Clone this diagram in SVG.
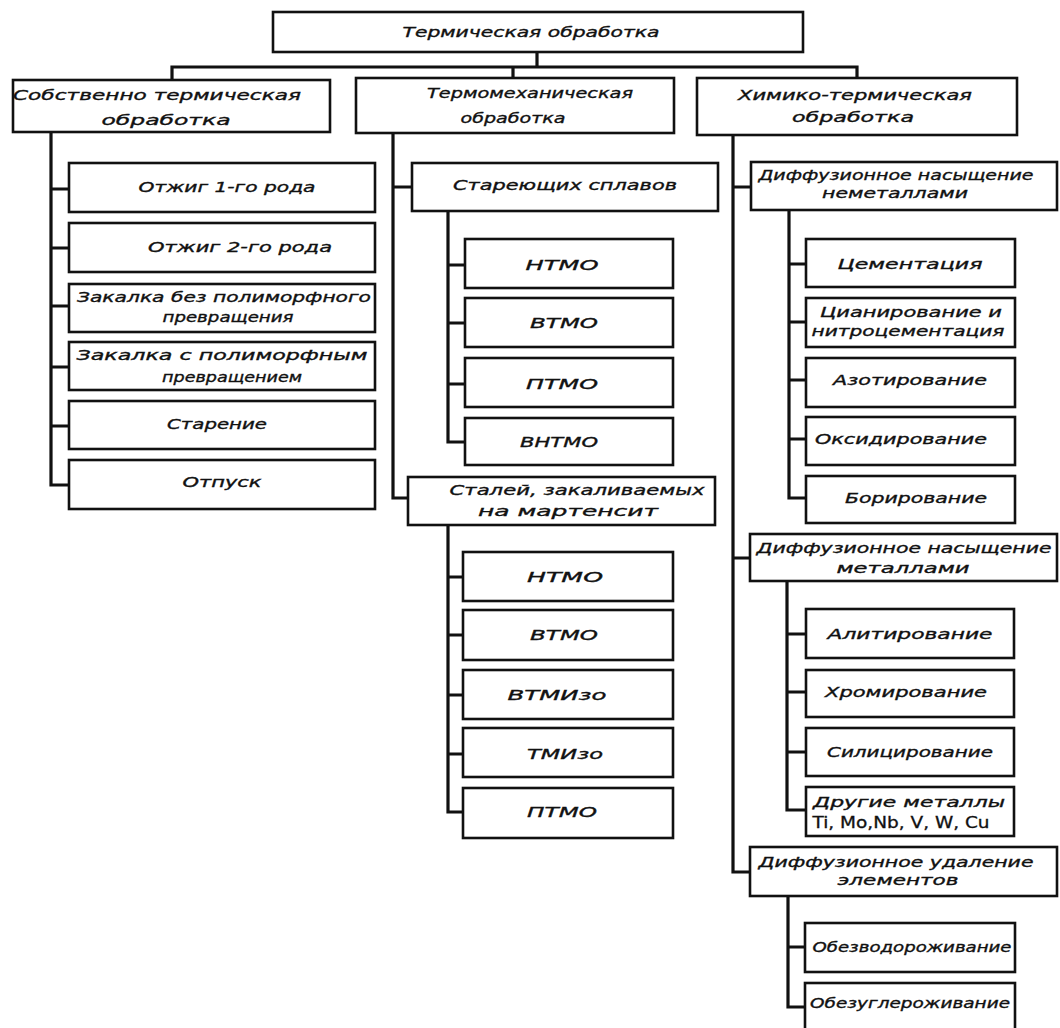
<svg xmlns="http://www.w3.org/2000/svg" width="1060" height="1028" viewBox="0 0 1060 1028">
<style>
.box{fill:#fff;stroke:#111;stroke-width:2.6}
.wire{fill:none;stroke:#111;stroke-width:3.2;stroke-linejoin:miter;stroke-linecap:square}
.t{font-family:"DejaVu Sans","Liberation Sans",sans-serif;font-style:italic;font-size:14px;fill:#111;stroke:#111;stroke-width:0.35;text-anchor:middle}
.u{font-family:"DejaVu Sans","Liberation Sans",sans-serif;font-size:15px;fill:#111;stroke:#111;stroke-width:0.3;text-anchor:middle}
</style>
<rect width="1060" height="1028" fill="#fff"/>
<g id="connectors">
<path class="wire" d="M537,52 V67 M172,67 H857 M172,67 V80 M513,67 V78 M857,67 V78"/>
<path class="wire" d="M51,132 V485 H69 M51,189 H69 M51,248 H69 M51,306 H69 M51,367 H69 M51,426 H69"/>
<path class="wire" d="M393,134 V498 H408 M393,187 H412"/>
<path class="wire" d="M448,211 V442 H465 M448,265 H465 M448,323 H465 M448,384 H465"/>
<path class="wire" d="M448,525 V812 H463 M448,577 H463 M448,635 H463 M448,695 H463 M448,754 H463"/>
<path class="wire" d="M733,135 V872 H750 M733,187 H751 M733,558 H750"/>
<path class="wire" d="M789,210 V498 H806 M789,264 H806 M789,322 H806 M789,380 H806 M789,439 H806"/>
<path class="wire" d="M787,581 V810 H806 M787,634 H806 M787,692 H806 M787,752 H806"/>
<path class="wire" d="M788,896 V1007 H805 M788,947 H805"/>
</g>
<g id="root"><rect class="box" x="273" y="12" width="530" height="40"/><text class="t" x="531" y="37" textLength="257" lengthAdjust="spacingAndGlyphs">Термическая обработка</text></g>
<g id="own"><rect class="box" x="13" y="80" width="317" height="52"/><text class="t" x="157" y="100" textLength="288" lengthAdjust="spacingAndGlyphs">Собственно термическая</text><text class="t" x="166" y="125" textLength="129" lengthAdjust="spacingAndGlyphs">обработка</text></g>
<g id="thermomech"><rect class="box" x="356" y="78" width="318" height="55"/><text class="t" x="530" y="98" textLength="206" lengthAdjust="spacingAndGlyphs">Термомеханическая</text><text class="t" x="513" y="123" textLength="105" lengthAdjust="spacingAndGlyphs">обработка</text></g>
<g id="chemo"><rect class="box" x="697" y="78" width="320" height="57"/><text class="t" x="855" y="100" textLength="234" lengthAdjust="spacingAndGlyphs">Химико-термическая</text><text class="t" x="853" y="122" textLength="122" lengthAdjust="spacingAndGlyphs">обработка</text></g>

<g id="anneal1"><rect class="box" x="69" y="163" width="306" height="49"/><text class="t" x="227" y="192" textLength="177" lengthAdjust="spacingAndGlyphs">Отжиг 1-го рода</text></g>
<g id="anneal2"><rect class="box" x="69" y="223" width="306" height="49"/><text class="t" x="240" y="252" textLength="184" lengthAdjust="spacingAndGlyphs">Отжиг 2-го рода</text></g>
<g id="quench1"><rect class="box" x="69" y="284" width="306" height="48"/><text class="t" x="224" y="302" textLength="294" lengthAdjust="spacingAndGlyphs">Закалка  без полиморфного</text><text class="t" x="228" y="322" textLength="131" lengthAdjust="spacingAndGlyphs">превращения</text></g>
<g id="quench2"><rect class="box" x="69" y="342" width="306" height="48"/><text class="t" x="222" y="360" textLength="291" lengthAdjust="spacingAndGlyphs">Закалка  с полиморфным</text><text class="t" x="232" y="382" textLength="140" lengthAdjust="spacingAndGlyphs">превращением</text></g>
<g id="aging"><rect class="box" x="69" y="401" width="306" height="48"/><text class="t" x="217" y="429" textLength="100" lengthAdjust="spacingAndGlyphs">Старение</text></g>
<g id="temper"><rect class="box" x="69" y="460" width="306" height="49"/><text class="t" x="222" y="487" textLength="79" lengthAdjust="spacingAndGlyphs">Отпуск</text></g>

<g id="aging-alloys"><rect class="box" x="412" y="163" width="306" height="48"/><text class="t" x="565" y="190" textLength="224" lengthAdjust="spacingAndGlyphs">Стареющих сплавов</text></g>
<g id="a-ntmo"><rect class="box" x="465" y="239" width="208" height="49"/><text class="t" x="562" y="270" textLength="73" lengthAdjust="spacingAndGlyphs">НТМО</text></g>
<g id="a-vtmo"><rect class="box" x="465" y="298" width="208" height="49"/><text class="t" x="564" y="328" textLength="68" lengthAdjust="spacingAndGlyphs">ВТМО</text></g>
<g id="a-ptmo"><rect class="box" x="465" y="358" width="208" height="49"/><text class="t" x="562" y="389" textLength="72" lengthAdjust="spacingAndGlyphs">ПТМО</text></g>
<g id="a-vntmo"><rect class="box" x="465" y="418" width="208" height="47"/><text class="t" x="559" y="447" textLength="78" lengthAdjust="spacingAndGlyphs">ВНТМО</text></g>

<g id="steels"><rect class="box" x="408" y="477" width="307" height="48"/><text class="t" x="577" y="495" textLength="255" lengthAdjust="spacingAndGlyphs">Сталей, закаливаемых</text><text class="t" x="568" y="516" textLength="180" lengthAdjust="spacingAndGlyphs">на  мартенсит</text></g>
<g id="s-ntmo"><rect class="box" x="463" y="552" width="210" height="49"/><text class="t" x="565" y="582" textLength="76" lengthAdjust="spacingAndGlyphs">НТМО</text></g>
<g id="s-vtmo"><rect class="box" x="463" y="610" width="210" height="50"/><text class="t" x="564" y="640" textLength="68" lengthAdjust="spacingAndGlyphs">ВТМО</text></g>
<g id="s-vtmizo"><rect class="box" x="463" y="670" width="210" height="49"/><text class="t" x="557" y="700" textLength="99" lengthAdjust="spacingAndGlyphs">ВТМИзо</text></g>
<g id="s-tmizo"><rect class="box" x="463" y="728" width="210" height="49"/><text class="t" x="565" y="759" textLength="76" lengthAdjust="spacingAndGlyphs">ТМИзо</text></g>
<g id="s-ptmo"><rect class="box" x="463" y="788" width="210" height="50"/><text class="t" x="562" y="817" textLength="70" lengthAdjust="spacingAndGlyphs">ПТМО</text></g>

<g id="nonmetals"><rect class="box" x="751" y="162" width="306" height="48"/><text class="t" x="896" y="180" textLength="275" lengthAdjust="spacingAndGlyphs">Диффузионное насыщение</text><text class="t" x="895" y="198" textLength="146" lengthAdjust="spacingAndGlyphs">неметаллами</text></g>
<g id="cementation"><rect class="box" x="806" y="239" width="209" height="48"/><text class="t" x="910" y="269" textLength="145" lengthAdjust="spacingAndGlyphs">Цементация</text></g>
<g id="cyaniding"><rect class="box" x="806" y="298" width="209" height="49"/><text class="t" x="911" y="317" textLength="182" lengthAdjust="spacingAndGlyphs">Цианирование и</text><text class="t" x="908" y="336" textLength="193" lengthAdjust="spacingAndGlyphs">нитроцементация</text></g>
<g id="nitriding"><rect class="box" x="806" y="358" width="209" height="49"/><text class="t" x="910" y="385" textLength="154" lengthAdjust="spacingAndGlyphs">Азотирование</text></g>
<g id="oxidizing"><rect class="box" x="806" y="417" width="209" height="48"/><text class="t" x="901" y="444" textLength="172" lengthAdjust="spacingAndGlyphs">Оксидирование</text></g>
<g id="boriding"><rect class="box" x="806" y="476" width="209" height="47"/><text class="t" x="916" y="503" textLength="142" lengthAdjust="spacingAndGlyphs">Борирование</text></g>

<g id="metals"><rect class="box" x="750" y="534" width="307" height="47"/><text class="t" x="904" y="553" textLength="295" lengthAdjust="spacingAndGlyphs">Диффузионное  насыщение</text><text class="t" x="903" y="573" textLength="133" lengthAdjust="spacingAndGlyphs">металлами</text></g>
<g id="aluminizing"><rect class="box" x="806" y="609" width="208" height="49"/><text class="t" x="910" y="639" textLength="165" lengthAdjust="spacingAndGlyphs">Алитирование</text></g>
<g id="chromizing"><rect class="box" x="806" y="670" width="208" height="47"/><text class="t" x="906" y="697" textLength="162" lengthAdjust="spacingAndGlyphs">Хромирование</text></g>
<g id="siliconizing"><rect class="box" x="806" y="728" width="208" height="48"/><text class="t" x="910" y="757" textLength="166" lengthAdjust="spacingAndGlyphs">Силицирование</text></g>
<g id="other-metals"><rect class="box" x="806" y="787" width="208" height="49"/><text class="t" x="909" y="807" textLength="192" lengthAdjust="spacingAndGlyphs">Другие  металлы</text><text class="u" x="901" y="828" textLength="177" lengthAdjust="spacingAndGlyphs">Ti, Mo,Nb, V, W, Cu</text></g>

<g id="removal"><rect class="box" x="750" y="847" width="307" height="49"/><text class="t" x="896" y="867" textLength="275" lengthAdjust="spacingAndGlyphs">Диффузионное  удаление</text><text class="t" x="898" y="885" textLength="121" lengthAdjust="spacingAndGlyphs">элементов</text></g>
<g id="dehydrogenation"><rect class="box" x="805" y="923" width="210" height="49"/><text class="t" x="912" y="952" textLength="199" lengthAdjust="spacingAndGlyphs">Обезводороживание</text></g>
<g id="decarburization"><rect class="box" x="805" y="983" width="210" height="60"/><text class="t" x="910" y="1008" textLength="200" lengthAdjust="spacingAndGlyphs">Обезуглероживание</text></g>
</svg>
